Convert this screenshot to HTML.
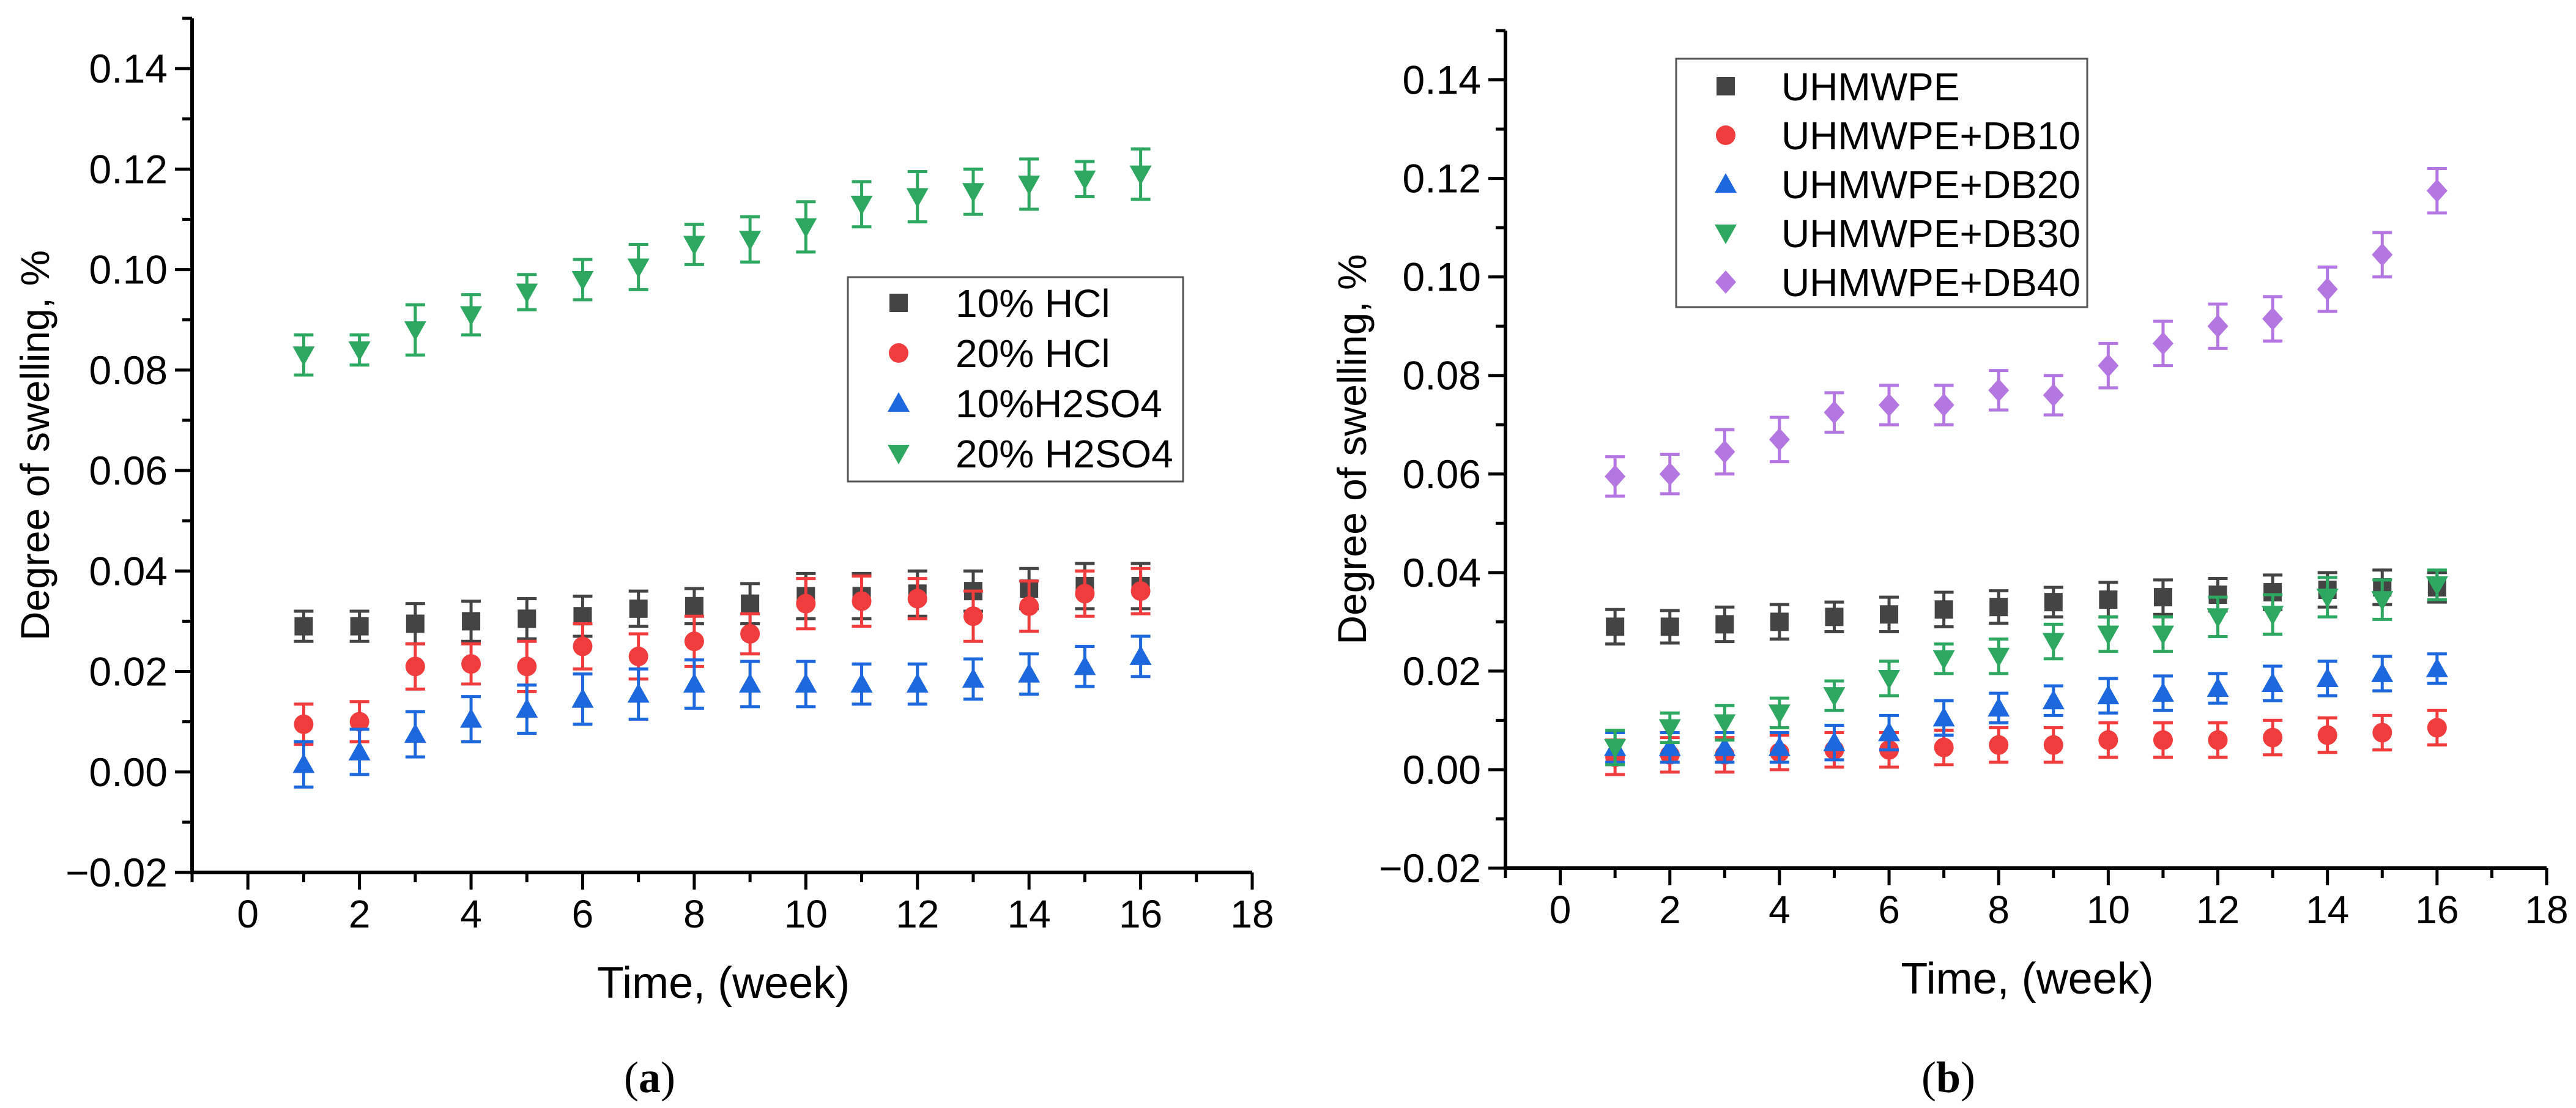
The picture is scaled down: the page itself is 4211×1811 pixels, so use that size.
<!DOCTYPE html>
<html><head><meta charset="utf-8"><style>
html,body{margin:0;padding:0;background:#fff}
svg{display:block}
text{font-family:"Liberation Sans",sans-serif;fill:#000}
</style></head><body>
<svg id="fig" width="4211" height="1811" viewBox="0 0 4211 1811"></svg>
<script>
const weeks=[1,2,3,4,5,6,7,8,9,10,11,12,13,14,15,16];
const xTicks=[0,2,4,6,8,10,12,14,16,18];
const yTicks=[-0.02,0,0.02,0.04,0.06,0.08,0.10,0.12,0.14];
// panel a
const hcl10=[0.029,0.029,0.0295,0.030,0.0305,0.031,0.0325,0.033,0.0335,0.035,0.035,0.0355,0.036,0.0365,0.037,0.037];
const hcl10Err=[0.003,0.003,0.004,0.004,0.004,0.004,0.0035,0.0035,0.004,0.0045,0.0045,0.0045,0.004,0.004,0.0045,0.0045];
const hcl20=[0.0095,0.010,0.021,0.0215,0.021,0.025,0.023,0.026,0.0275,0.0335,0.034,0.0345,0.031,0.033,0.0355,0.036];
const hcl20Err=[0.004,0.004,0.0045,0.004,0.005,0.0045,0.0045,0.005,0.004,0.005,0.005,0.004,0.005,0.005,0.0045,0.0045];
const h2so410=[0.0015,0.004,0.0075,0.0105,0.0125,0.0145,0.0155,0.0175,0.0175,0.0175,0.0175,0.0175,0.0185,0.0195,0.021,0.023];
const h2so410Err=[0.0045,0.0045,0.0045,0.0045,0.0048,0.005,0.005,0.0048,0.0045,0.0045,0.004,0.004,0.004,0.004,0.004,0.004];
const h2so420=[0.083,0.084,0.088,0.091,0.0955,0.098,0.1005,0.105,0.106,0.1085,0.113,0.1145,0.1155,0.117,0.118,0.119];
const h2so420Err=[0.004,0.003,0.005,0.004,0.0035,0.004,0.0045,0.004,0.0045,0.005,0.0045,0.005,0.0045,0.005,0.0035,0.005];
// panel b
const pe=[0.029,0.029,0.0295,0.030,0.031,0.0315,0.0325,0.033,0.034,0.0345,0.035,0.0355,0.036,0.0365,0.037,0.037];
const peErr=[0.0035,0.0033,0.0035,0.0035,0.003,0.0035,0.0035,0.0033,0.003,0.0035,0.0035,0.0033,0.0035,0.0035,0.0035,0.003];
const db10=[0.0025,0.003,0.003,0.0035,0.004,0.004,0.0045,0.005,0.005,0.006,0.006,0.006,0.0065,0.007,0.0075,0.0085];
const db10Err=[0.0035,0.0035,0.0035,0.0035,0.0035,0.0035,0.0035,0.0035,0.0035,0.0035,0.0035,0.0035,0.0035,0.0035,0.0035,0.0035];
const db20=[0.0045,0.0045,0.0045,0.0045,0.0055,0.0075,0.0105,0.0125,0.014,0.015,0.0155,0.0165,0.0175,0.0185,0.0195,0.0205];
const db20Err=[0.003,0.003,0.003,0.003,0.0035,0.0035,0.0035,0.003,0.003,0.0035,0.0035,0.003,0.0035,0.0035,0.0035,0.003];
const db30=[0.0045,0.0085,0.0095,0.0115,0.015,0.0185,0.0225,0.023,0.026,0.0275,0.0275,0.031,0.0315,0.035,0.0345,0.0375];
const db30Err=[0.0035,0.003,0.0035,0.003,0.003,0.0035,0.003,0.0035,0.0035,0.0035,0.0035,0.004,0.004,0.004,0.004,0.003];
const db40=[0.0595,0.060,0.0645,0.067,0.0725,0.074,0.074,0.077,0.076,0.082,0.0865,0.090,0.0915,0.0975,0.1045,0.1175];
const db40Err=[0.004,0.004,0.0045,0.0045,0.004,0.004,0.004,0.004,0.004,0.0045,0.0045,0.0045,0.0045,0.0045,0.0045,0.0045];

const NS='http://www.w3.org/2000/svg';
const svg=document.getElementById('fig');
function mk(tag,attrs,parent){const e=document.createElementNS(NS,tag);for(const k in attrs)e.setAttribute(k,attrs[k]);(parent||svg).appendChild(e);return e;}

function marker(g,shape,cx,cy,color){
  const s=15;let e;
  if(shape==='square')e=mk('rect',{x:cx-s,y:cy-s,width:2*s,height:2*s,fill:color},g);
  else if(shape==='circle')e=mk('circle',{cx:cx,cy:cy,r:s+1,fill:color},g);
  else if(shape==='up')e=mk('polygon',{points:`${cx},${cy-18} ${cx-18},${cy+14} ${cx+18},${cy+14}`,fill:color},g);
  else if(shape==='down')e=mk('polygon',{points:`${cx},${cy+18} ${cx-18},${cy-14} ${cx+18},${cy-14}`,fill:color},g);
  else e=mk('polygon',{points:`${cx},${cy-19} ${cx+17},${cy} ${cx},${cy+19} ${cx-17},${cy}`,fill:color},g);
  return e;
}

function panel(p){
  const g=mk('g',{});
  
  
  const X=v=>p.x0+(v-(-1))*(p.x1-p.x0)/19;
  const Y=v=>p.y0-(v-(-0.02))*(p.y0-p.y1)/0.17;
  const ax=mk('path',{d:`M${X(-1)},${Y(0.15)} V${Y(-0.02)} H${X(18)}`,stroke:'#000','stroke-width':6,fill:'none'},g);
  
  
  mk('line',{x1:X(-1)-16,y1:Y(0.15),x2:X(-1),y2:Y(0.15),stroke:'#000','stroke-width':5},g);
  for(let v=-1;v<=18;v++){
    const maj=(v%2===0);
    mk('line',{x1:X(v),y1:Y(-0.02),x2:X(v),y2:Y(-0.02)+(maj?28:16),stroke:'#000','stroke-width':5},g);
  }
  xTicks.forEach(v=>{
    const t=mk('text',{x:X(v),y:Y(-0.02)+90,'font-size':64,'text-anchor':'middle'},g);
    t.textContent=v;
    
    
  });
  for(let i=0;i<17;i++){
    const v=-0.02+i*0.01;const maj=(i%2===0);
    mk('line',{x1:X(-1)-(maj?28:16),y1:Y(v),x2:X(-1),y2:Y(v),stroke:'#000','stroke-width':5},g);
  }
  yTicks.forEach(v=>{
    const t=mk('text',{x:X(-1)-40,y:Y(v)+23,'font-size':66,'text-anchor':'end'},g);
    t.textContent=(v<0?'\u22120.02':v.toFixed(2));
    
    
  });
  const xt=mk('text',{x:(X(-1)+X(18))/2+2,y:Y(-0.02)+205,'font-size':72,'text-anchor':'middle'},g);
  xt.textContent='Time, (week)';
  
  
  const yt=mk('text',{x:0,y:0,'font-size':66,'text-anchor':'middle',transform:`translate(${p.ytx},${(Y(-0.02)+Y(0.15))/2}) rotate(-90)`},g);
  yt.textContent='Degree of swelling, %';
  
  
  p.series.forEach(s=>{
    const sg=mk('g',{},g);
    
    
    weeks.forEach((w,i)=>{
      const cx=X(w),cy=Y(s.vals[i]),e=s.err[i];
      const eb=mk('path',{d:`M${cx-16},${Y(s.vals[i]+e)} H${cx+16} M${cx},${Y(s.vals[i]+e)} V${Y(s.vals[i]-e)} M${cx-16},${Y(s.vals[i]-e)} H${cx+16}`,stroke:s.color,'stroke-width':5,fill:'none'},sg);
      
      
      const m=marker(sg,s.shape,cx,cy,s.color);
      
      
    });
  });
  const L=p.legend;
  const lg=mk('g',{},g);
  
  
  mk('rect',{x:L.x,y:L.y,width:L.w,height:L.h,fill:'#fff',stroke:'#555','stroke-width':3},lg);
  p.series.forEach((s,i)=>{
    const cy=L.ey+i*L.dy;
    const m=marker(lg,s.shape,L.mx,cy,s.color);
    
    
    const t=mk('text',{x:L.tx,y:cy+23,'font-size':64},lg);
    t.textContent=s.label;
    
    
  });
  const cap=mk('text',{x:p.capx,y:1785,'font-size':72,'text-anchor':'middle',style:'font-family:"Liberation Serif",serif'},g);
  cap.textContent='(';
  const b=mk('tspan',{'font-weight':'bold'},cap);b.textContent=p.cap;
  const c2=mk('tspan',{},cap);c2.textContent=')';
  
  
}
const GRAY='#444444',RED='#f03c3c',BLUE='#1c68dc',GREEN='#2ea860',PURPLE='#b476e0';
panel({name:'panel-a',x0:314,x1:2047,y0:1426,y1:30,ytx:80,capx:1062,cap:'a',
  legend:{x:1386,y:453,w:548,h:334,mx:1469,tx:1562,ey:495,dy:82},
  series:[
    {id:'10-hcl',label:'10% HCl',vals:hcl10,err:hcl10Err,color:GRAY,shape:'square'},
    {id:'20-hcl',label:'20% HCl',vals:hcl20,err:hcl20Err,color:RED,shape:'circle'},
    {id:'10-h2so4',label:'10%H2SO4',vals:h2so410,err:h2so410Err,color:BLUE,shape:'up'},
    {id:'20-h2so4',label:'20% H2SO4',vals:h2so420,err:h2so420Err,color:GREEN,shape:'down'}]});
panel({name:'panel-b',x0:2461,x1:4163,y0:1419,y1:50,ytx:2233,capx:3185,cap:'b',
  legend:{x:2740,y:96,w:672,h:406,mx:2821,tx:2912,ey:141,dy:80},
  series:[
    {id:'uhmwpe',label:'UHMWPE',vals:pe,err:peErr,color:GRAY,shape:'square'},
    {id:'db10',label:'UHMWPE+DB10',vals:db10,err:db10Err,color:RED,shape:'circle'},
    {id:'db20',label:'UHMWPE+DB20',vals:db20,err:db20Err,color:BLUE,shape:'up'},
    {id:'db30',label:'UHMWPE+DB30',vals:db30,err:db30Err,color:GREEN,shape:'down'},
    {id:'db40',label:'UHMWPE+DB40',vals:db40,err:db40Err,color:PURPLE,shape:'diamond'}]});
</script>
</body></html>
